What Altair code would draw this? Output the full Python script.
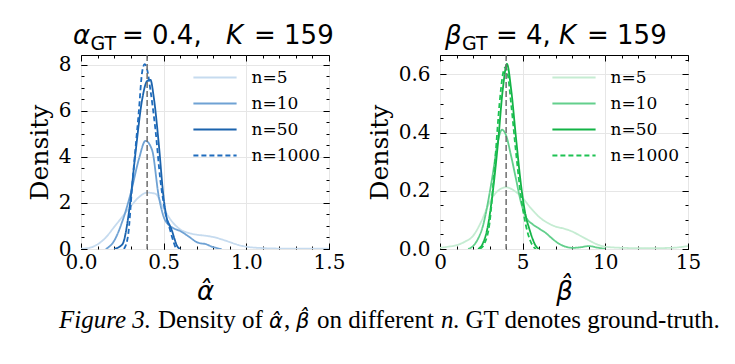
import altair as alt
import pandas as pd

n_labels = ["n=5", "n=10", "n=50", "n=1000"]

# ---------- alpha panel ----------
a5_x = [0.0, 0.05, 0.1, 0.15, 0.2, 0.25, 0.3, 0.35, 0.4, 0.45, 0.5, 0.55, 0.6, 0.65, 0.7, 0.75, 0.8, 0.85, 0.9, 0.95, 1.0, 1.1, 1.2, 1.3, 1.4, 1.5]
a5_y = [0.01, 0.05, 0.2, 0.5, 0.95, 1.4, 1.85, 2.25, 2.45, 2.4, 1.75, 1.2, 0.85, 0.7, 0.62, 0.58, 0.52, 0.42, 0.3, 0.18, 0.1, 0.04, 0.02, 0.02, 0.02, 0.02]
a10_x = [0.15, 0.2, 0.25, 0.3, 0.35, 0.39, 0.43, 0.47, 0.5, 0.53, 0.56, 0.6, 0.65, 0.7, 0.72, 0.75, 0.8, 0.85]
a10_y = [0.0, 0.35, 1.2, 2.4, 3.9, 4.7, 4.3, 2.3, 1.4, 1.05, 0.9, 0.78, 0.55, 0.3, 0.25, 0.22, 0.08, 0.0]
a50_x = [0.2, 0.25, 0.29, 0.33, 0.37, 0.4, 0.42, 0.44, 0.47, 0.5, 0.52, 0.535, 0.55, 0.565, 0.58, 0.6]
a50_y = [0.0, 0.2, 1.6, 4.2, 6.5, 7.3, 7.35, 6.6, 4.6, 2.2, 1.3, 1.05, 0.8, 0.45, 0.15, 0.0]
a1000_x = [0.26, 0.285, 0.31, 0.35, 0.37, 0.385, 0.4, 0.42, 0.45, 0.48, 0.51, 0.54, 0.56, 0.575]
a1000_y = [0.0, 0.6, 2.8, 6.0, 7.7, 8.03, 7.8, 6.9, 5.2, 3.0, 1.6, 0.8, 0.3, 0.0]

# ---------- beta panel ----------
b5_x = [0, 0.5, 1, 1.5, 2, 2.5, 3, 3.5, 4, 4.5, 5, 5.5, 6, 6.5, 7, 7.5, 8, 8.5, 9, 9.5, 10, 11, 12, 13, 14, 15]
b5_y = [0.004, 0.008, 0.013, 0.025, 0.045, 0.095, 0.16, 0.2, 0.212, 0.2, 0.175, 0.14, 0.11, 0.09, 0.077, 0.07, 0.06, 0.045, 0.03, 0.016, 0.008, 0.004, 0.003, 0.003, 0.004, 0.01]
b10_x = [1.7, 2.0, 2.3, 2.6, 2.9, 3.2, 3.5, 3.75, 4.0, 4.3, 4.6, 4.9, 5.2, 5.6, 6.0, 6.4, 6.8, 7.2, 7.6, 8.0, 8.5, 9.0, 9.5, 10.0]
b10_y = [0.0, 0.01, 0.035, 0.08, 0.16, 0.26, 0.37, 0.41, 0.39, 0.32, 0.24, 0.16, 0.11, 0.085, 0.07, 0.055, 0.035, 0.018, 0.008, 0.004, 0.006, 0.01, 0.005, 0.0]
b50_x = [2.3, 2.6, 2.9, 3.2, 3.5, 3.8, 4.05, 4.3, 4.6, 4.9, 5.2, 5.4, 5.6, 5.8, 6.0]
b50_y = [0.0, 0.02, 0.08, 0.2, 0.36, 0.55, 0.636, 0.55, 0.38, 0.22, 0.11, 0.07, 0.035, 0.01, 0.0]
b1000_x = [2.4, 2.7, 3.0, 3.3, 3.6, 3.8, 3.95, 4.1, 4.3, 4.6, 4.9, 5.2, 5.45, 5.65, 5.8]
b1000_y = [0.0, 0.02, 0.09, 0.28, 0.5, 0.6, 0.624, 0.6, 0.5, 0.33, 0.18, 0.08, 0.03, 0.008, 0.0]

alpha_gt = 0.4
beta_gt = 4

# tick values
a_x_major = [0.0, 0.5, 1.0, 1.5]
a_x_minor = [0.0, 0.1, 0.2, 0.3, 0.4, 0.5, 0.6, 0.7, 0.8, 0.9, 1.0, 1.1, 1.2, 1.3, 1.4, 1.5]
a_y_major = [0, 2, 4, 6, 8]
a_y_minor = [0, 0.5, 1, 1.5, 2, 2.5, 3, 3.5, 4, 4.5, 5, 5.5, 6, 6.5, 7, 7.5, 8]
b_x_major = [0, 5, 10, 15]
b_x_minor = [0, 1, 2, 3, 4, 5, 6, 7, 8, 9, 10, 11, 12, 13, 14, 15]
b_y_major = [0.0, 0.2, 0.4, 0.6]
b_y_minor = [0.0, 0.05, 0.1, 0.15, 0.2, 0.25, 0.3, 0.35, 0.4, 0.45, 0.5, 0.55, 0.6, 0.65]

blues = ["#c6dbef", "#6fa2d4", "#1b63ad", "#1f6cbd"]
greens = ["#c5ecd2", "#63cf8c", "#13b346", "#1ec253"]
dashes = [[1, 0], [1, 0], [1, 0], [5, 3]]

alpha_title = ["α", "GT", "= 0.4,", "K", "= 159"]
beta_title = ["β", "GT", "= 4,", "K", "= 159"]
caption_parts = ["Figure 3.", "Density of", "α̂", ",", "β̂", "on different", "n", ". GT denotes ground-truth."]

SERIF = "DejaVu Serif"
SANS = "DejaVu Sans"
TIMES = "Liberation Serif"


def series_df(xs_list, ys_list):
    rows = []
    for lab, xs, ys in zip(n_labels, xs_list, ys_list):
        for x, y in zip(xs, ys):
            rows.append({"n": lab, "x": x, "y": y})
    return pd.DataFrame(rows)


def tick_axis(orient, values, size):
    return alt.Axis(orient=orient, values=values, tickSize=size, offset=-size,
                    labels=False, domain=False, grid=False, ticks=True,
                    tickColor="black", tickWidth=1, title=None)


def text_layer(s, x, y, size, font, style="normal"):
    return alt.Chart(pd.DataFrame({"t": [s]})).mark_text(
        align="left", baseline="alphabetic", font=font, fontSize=size,
        fontStyle=style, color="black"
    ).encode(x=alt.value(x), y=alt.value(y), text="t:N")


def panel(df, gt, xdom, ydom, xmaj, xmin, ymaj, ymin, xfmt, yfmt, xtitle, colors, title_layers):
    xs = alt.Scale(domain=xdom, nice=False, zero=False)
    ys = alt.Scale(domain=ydom, nice=False, zero=False)
    legend = alt.Legend(orient="none", legendX=125.5, legendY=14, title=None,
                        symbolType="M-3.6,0H3.6", symbolSize=144, symbolStrokeWidth=1.8,
                        labelFont=SERIF, labelFontSize=17, labelColor="black",
                        labelFontWeight="normal",
                        labelOffset=28, rowPadding=8, padding=0)
    base = alt.Chart(df)
    main_x = alt.Axis(orient="bottom", values=xmaj, format=xfmt, grid=True,
                      gridColor="#e6e6e6", gridWidth=1, ticks=False, tickSize=0,
                      domain=False, labelFont=SERIF, labelFontSize=20, labelColor="black",
                      labelPadding=3, labelFlush=False, labelOverlap=False,
                      titleFont=SANS, titleFontSize=26, titleFontStyle="italic",
                      titleFontWeight="normal", titleColor="black", titlePadding=6)
    main_y = alt.Axis(orient="left", values=ymaj, format=yfmt, grid=True,
                      gridColor="#e6e6e6", gridWidth=1, ticks=False, tickSize=0,
                      domain=False, labelFont=SERIF, labelFontSize=20, labelColor="black",
                      labelPadding=10, labelFlush=False, labelOverlap=False,
                      titleFont=SERIF, titleFontSize=25, titleFontWeight="normal",
                      titleColor="black", titlePadding=6)
    lines = base.mark_line(strokeWidth=1.8, interpolate="monotone", clip=True).encode(
        x=alt.X("x:Q", scale=xs, title=xtitle, axis=main_x),
        y=alt.Y("y:Q", scale=ys, title="Density", axis=main_y),
        color=alt.Color("n:N", scale=alt.Scale(domain=n_labels, range=colors), legend=legend, title=None),
        strokeDash=alt.StrokeDash("n:N", scale=alt.Scale(domain=n_labels, range=dashes), legend=legend, title=None),
    )
    gt_rule = alt.Chart(pd.DataFrame({"gt": [gt]})).mark_rule(
        color="#6e6e6e", strokeDash=[6, 3], strokeWidth=1.5
    ).encode(x=alt.X("gt:Q", scale=xs, axis=None))
    ticks = []
    for (xo, xv, xsz), (yo, yv, ysz) in [
        (("bottom", xmaj, 6), ("left", ymaj, 6)),
        (("bottom", xmin, 3), ("left", ymin, 3)),
        (("top", xmaj, 6), ("right", ymaj, 6)),
        (("top", xmin, 3), ("right", ymin, 3)),
    ]:
        ticks.append(base.mark_point(opacity=0).encode(
            x=alt.X("x:Q", scale=xs, axis=tick_axis(xo, xv, xsz)),
            y=alt.Y("y:Q", scale=ys, axis=tick_axis(yo, yv, ysz)),
        ))
    return alt.layer(lines, gt_rule, *ticks, *title_layers).resolve_axis(
        x="independent", y="independent"
    ).properties(width=248, height=194)


alpha_df = series_df([a5_x, a10_x, a50_x, a1000_x], [a5_y, a10_y, a50_y, a1000_y])
beta_df = series_df([b5_x, b10_x, b50_x, b1000_x], [b5_y, b10_y, b50_y, b1000_y])

CAP_Y = 273
alpha_texts = [
    text_layer(alpha_title[0], -8, -11, 26, SANS, "italic"),
    text_layer(alpha_title[1], 9.5, -5, 19, SANS),
    text_layer(alpha_title[2], 41, -11, 26, SANS),
    text_layer(alpha_title[3], 145, -11, 26, SANS, "italic"),
    text_layer(alpha_title[4], 173, -11, 26, SANS),
    text_layer(caption_parts[0], -22, CAP_Y, 25, TIMES, "italic"),
    text_layer(caption_parts[1], 77, CAP_Y, 25, TIMES),
    text_layer(caption_parts[2], 188, CAP_Y, 21, SANS, "italic"),
    text_layer(caption_parts[3], 203, CAP_Y, 25, TIMES),
    text_layer(caption_parts[4], 215, CAP_Y, 21, SANS, "italic"),
    text_layer(caption_parts[5], 236, CAP_Y, 25, TIMES),
    text_layer(caption_parts[6], 360, CAP_Y, 25, TIMES, "italic"),
    text_layer(caption_parts[7], 372, CAP_Y, 25, TIMES),
]
beta_texts = [
    text_layer(beta_title[0], 5, -11, 26, SANS, "italic"),
    text_layer(beta_title[1], 22, -5, 19, SANS),
    text_layer(beta_title[2], 56, -11, 26, SANS),
    text_layer(beta_title[3], 119, -11, 26, SANS, "italic"),
    text_layer(beta_title[4], 147, -11, 26, SANS),
]

left = panel(alpha_df, alpha_gt, [0, 1.5], [0, 8.43], a_x_major, a_x_minor, a_y_major, a_y_minor,
             ".1f", "d", "α̂", blues, alpha_texts)
right = panel(beta_df, beta_gt, [0, 15], [0, 0.667], b_x_major, b_x_minor, b_y_major, b_y_minor,
              "d", ".1f", "β̂", greens, beta_texts)

chart = alt.hconcat(left, right, spacing=111, bounds="flush").resolve_scale(
    color="independent", strokeDash="independent"
).properties(
    padding={"left": 26, "top": 22, "right": 5, "bottom": 5}
).configure_view(
    stroke="black", strokeWidth=1
).configure_axis(
    labelFont=SERIF
).configure_legend(
    labelFont=SERIF, labelFontWeight="normal"
)

chart.save("out.html", embed_options={"renderer": "svg", "actions": False})
